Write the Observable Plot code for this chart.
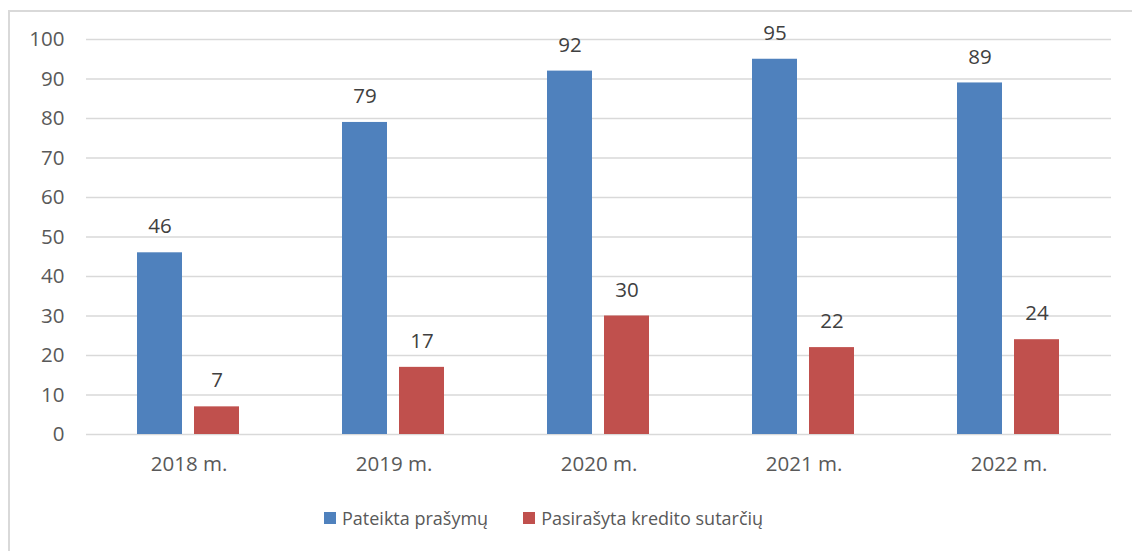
<!DOCTYPE html>
<html>
<head>
<meta charset="utf-8">
<script src="https://cdn.jsdelivr.net/npm/d3@7"></script>
<script src="https://cdn.jsdelivr.net/npm/@observablehq/plot@0.6"></script>
<style>
  html, body { margin: 0; padding: 0; background: #fff; }
  #wrap { position: relative; width: 1132px; height: 551px; overflow: hidden; font-family: "Open Sans", sans-serif; }
  #frame { position: absolute; left: 8px; top: 10px; width: 1200px; height: 600px; border-left: 2px solid #d9d9d9; border-top: 2px solid #d9d9d9; box-sizing: border-box; }
  #chart { position: absolute; left: 0; top: 0; }
  #legend { position: absolute; left: 324px; top: 506px; display: flex; align-items: center; font-size: 18px; color: #595959; white-space: nowrap; }
  .sw { display: inline-block; width: 12px; height: 12px; margin-right: 6px; }
  .item { display: flex; align-items: center; margin-right: 35px; }
</style>
</head>
<body>
<div id="wrap">
  <div id="frame"></div>
  <div id="chart"></div>
  <div id="legend"></div>
</div>
<script>
const years = ["2018 m.", "2019 m.", "2020 m.", "2021 m.", "2022 m."];
const seriesNames = ["Pateikta prašymų", "Pasirašyta kredito sutarčių"];
const submitted = [46, 79, 92, 95, 89];
const signed = [7, 17, 30, 22, 24];
const colors = ["#4F81BD", "#C0504D"];
const yTicks = [0, 10, 20, 30, 40, 50, 60, 70, 80, 90, 100];

const data = [];
years.forEach((yr, i) => {
  data.push({year: yr, series: seriesNames[0], value: submitted[i]});
  data.push({year: yr, series: seriesNames[1], value: signed[i]});
});

const chart = Plot.plot({
  width: 1132,
  height: 490,
  marginLeft: 84,
  marginRight: 19,
  marginTop: 39,
  marginBottom: 56,
  style: {fontFamily: "Open Sans, sans-serif", background: "transparent", overflow: "visible"},
  fx: {domain: years, padding: 0, label: null},
  x: {domain: seriesNames, paddingInner: 12 / 58, paddingOuter: 0.878, axis: null},
  y: {domain: [0, 100], label: null},
  color: {domain: seriesNames, range: colors},
  marks: [
    Plot.ruleY(yTicks, {stroke: "#d9d9d9", strokeWidth: 1.5}),
    Plot.axisY(yTicks, {tickSize: 0, tickPadding: 22, fontSize: 20.5, fill: "#595959", label: null}),
    Plot.axisFx({anchor: "bottom", tickSize: 0, tickPadding: 22, fontSize: 20.5, fill: "#595959", label: null}),
    Plot.barY(data, {fx: "year", x: "series", y: "value", fill: "series"}),
    Plot.text(data, {fx: "year", x: "series", y: "value", text: d => String(d.value), dy: -26, fontSize: 20.5, fill: "#404040"})
  ]
});
document.getElementById("chart").appendChild(chart);

const legend = document.getElementById("legend");
seriesNames.forEach((name, i) => {
  const item = document.createElement("div");
  item.className = "item";
  const sw = document.createElement("span");
  sw.className = "sw";
  sw.style.background = colors[i];
  const label = document.createElement("span");
  label.textContent = name;
  item.appendChild(sw);
  item.appendChild(label);
  legend.appendChild(item);
});
</script>
</body>
</html>
